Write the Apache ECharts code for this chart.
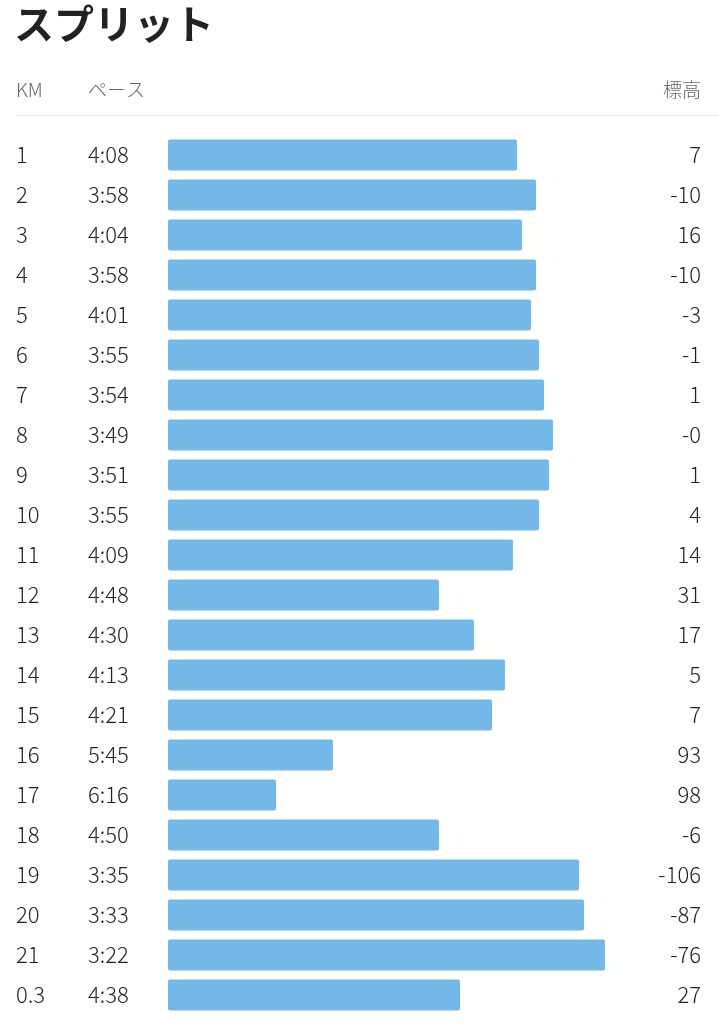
<!DOCTYPE html>
<html>
<head>
<meta charset="utf-8">
<script src="https://cdn.jsdelivr.net/npm/echarts@6/dist/echarts.min.js"></script>
<style>
html,body{margin:0;padding:0;background:#fff;}
#chart{width:719px;height:1031px;}
</style>
</head>
<body>
<div id="chart"></div>
<script>
var titleText = 'スプリット';
var headers = ['KM', 'ペース', '標高'];
var km = ['1','2','3','4','5','6','7','8','9','10','11','12','13','14','15','16','17','18','19','20','21','0.3'];
var paces = ['4:08','3:58','4:04','3:58','4:01','3:55','3:54','3:49','3:51','3:55','4:09','4:48','4:30','4:13','4:21','5:45','6:16','4:50','3:35','3:33','3:22','4:38'];
var elevations = ['7','-10','16','-10','-3','-1','1','-0','1','4','14','31','17','5','7','93','98','-6','-106','-87','-76','27'];
var barLengths = [349,368,354,368,363,371,376,385,381,371,345,271,306,337,324,165,108,271,411,416,437,292];

var FONT = '"Noto Sans CJK JP", "Noto Sans", sans-serif';
var chart = echarts.init(document.getElementById('chart'), null, {renderer: 'canvas'});
chart.setOption({
  backgroundColor: '#ffffff',
  animation: false,
  title: {
    text: titleText,
    left: 14, top: 4, padding: 0,
    textStyle: {fontFamily: FONT, fontSize: 40, fontWeight: 'bold', color: '#222222'}
  },
  grid: {left: 168, top: 135, width: 533, height: 880, containLabel: false},
  xAxis: {type: 'value', min: 0, max: 533, show: false},
  yAxis: [{
    type: 'category', data: km, inverse: true,
    axisLine: {show: false}, axisTick: {show: false}, splitLine: {show: false},
    axisLabel: {
      align: 'left', margin: 152,
      formatter: function (v, i) { return '{km|' + km[i] + '}{pace|' + paces[i] + '}'; },
      rich: {
        km: {width: 72, align: 'left', fontFamily: FONT, fontSize: 22, fontWeight: 300, color: '#222222'},
        pace: {align: 'left', fontFamily: FONT, fontSize: 22, fontWeight: 300, color: '#222222'}
      }
    }
  }, {
    type: 'category', data: km, inverse: true, position: 'right',
    axisLine: {show: false}, axisTick: {show: false}, splitLine: {show: false},
    axisLabel: {
      align: 'right', margin: 0,
      fontFamily: FONT, fontSize: 22, fontWeight: 300, color: '#222222',
      formatter: function (v, i) { return elevations[i]; }
    }
  }],
  graphic: [
    {type: 'text', left: 16, top: 80, style: {text: headers[0], fontFamily: FONT, fontSize: 19, fontWeight: 300, fill: '#666666'}},
    {type: 'text', left: 88, top: 80, style: {text: headers[1], fontFamily: FONT, fontSize: 19, fontWeight: 300, fill: '#666666'}},
    {type: 'text', right: 18, top: 80, style: {text: headers[2], fontFamily: FONT, fontSize: 19, fontWeight: 300, fill: '#666666'}},
    {type: 'line', shape: {x1: 16, y1: 115.5, x2: 719, y2: 115.5}, style: {stroke: '#e6e6e6', lineWidth: 1}}
  ],
  series: [{
    type: 'bar',
    data: barLengths,
    barWidth: 31,
    itemStyle: {color: '#74b8ea', borderRadius: 2}
  }]
});
</script>
</body>
</html>
